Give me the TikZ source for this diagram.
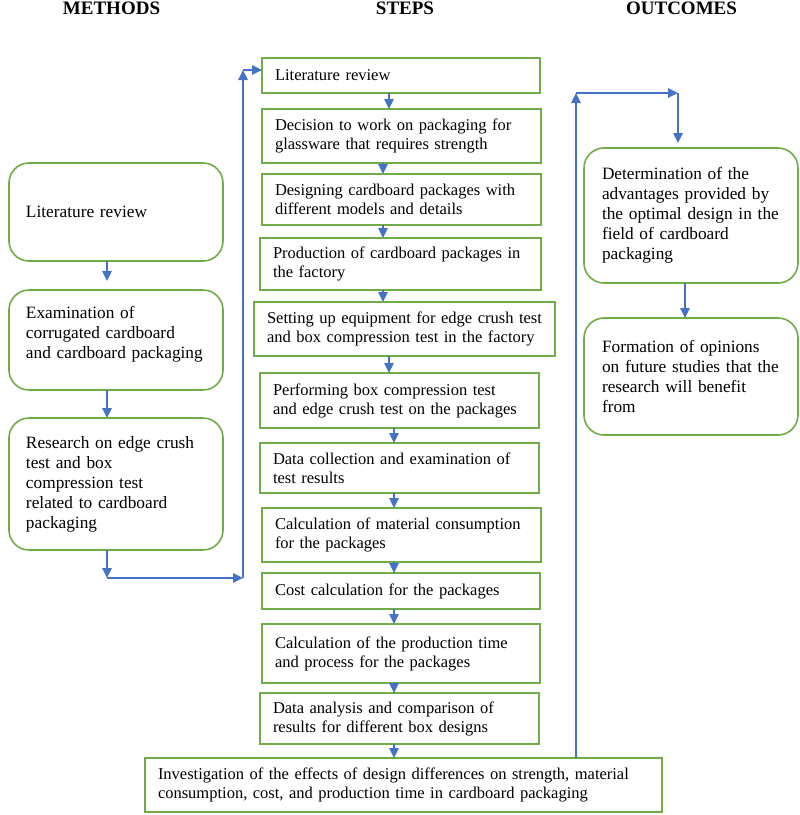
\documentclass[tikz,border=0pt]{standalone}
\usepackage{fontspec}
\setmainfont{Liberation Serif}
\usetikzlibrary{arrows.meta}
\definecolor{gr}{HTML}{70AD47}
\definecolor{bl}{HTML}{4472C4}
\begin{document}
\begin{tikzpicture}[x=1pt,y=-1pt,
  sq/.style={draw=gr,line width=2pt,anchor=north west,align=left,inner xsep=13pt,inner ysep=0pt,outer sep=0pt,font=\fontsize{16.5}{19}\selectfont},
  rnd/.style={draw=gr,line width=1.6pt,rounded corners=20pt,anchor=north west,align=left,inner xsep=17pt,inner ysep=0pt,outer sep=0pt,font=\fontsize{17.3}{20}\selectfont},
  arr/.style={draw=bl,line width=1.6pt,-{Triangle[length=10pt,width=9.5pt]}},
  hd/.style={anchor=base,font=\fontsize{19}{22}\selectfont\bfseries}]
\useasboundingbox (0,0) rectangle (800,815);
% headings
\node[hd] (hm) at (111.5,14) {METHODS};
\node[hd] (hs) at (405,14) {STEPS};
\node[hd] (ho) at (681.5,14) {OUTCOMES};
% middle column
\node[sq,minimum height=35pt,text width=252pt] (b1) at (262,58) {Literature review};
\node[sq,minimum height=54pt,text width=253pt] (b2) at (262,109) {Decision to work on packaging for\\glassware that requires strength};
\node[sq,minimum height=51pt,text width=253pt] (b3) at (262,174) {Designing cardboard packages with\\different models and details};
\node[sq,minimum height=52pt,text width=255pt] (b4) at (260,238) {Production of cardboard packages in\\the factory};
\node[sq,minimum height=54pt,text width=275pt] (b5) at (254,302) {Setting up equipment for edge crush test\\and box compression test in the factory};
\node[sq,minimum height=55pt,text width=253pt] (b6) at (260,373) {Performing box compression test\\and edge crush test on the packages};
\node[sq,minimum height=50pt,text width=253pt] (b7) at (260,443) {Data collection and examination of\\test results};
\node[sq,minimum height=54pt,text width=253pt] (b8) at (262,508) {Calculation of material consumption\\for the packages};
\node[sq,minimum height=36pt,text width=252pt] (b9) at (262,573) {Cost calculation for the packages};
\node[sq,minimum height=59pt,text width=252pt] (b10) at (262,624) {Calculation of the production time\\and process for the packages};
\node[sq,minimum height=51pt,text width=253pt] (b11) at (260,693) {Data analysis and comparison of\\results for different box designs};
\node[sq,minimum height=54pt,text width=491pt] (b12) at (145,758) {Investigation of the effects of design differences on strength, material\\consumption, cost, and production time in cardboard packaging};
% left column
\node[rnd,minimum height=98pt,text width=180pt] (L1) at (9,163) {Literature review};
\node[rnd,minimum height=100pt,text width=180pt] (L2) at (9,290) {Examination of\\corrugated cardboard\\and cardboard packaging\\[-4pt]\mbox{}};
\node[rnd,minimum height=132pt,text width=180pt] (L3) at (9,418) {Research on edge crush\\test and box\\compression test\\related to cardboard\\packaging};
% right column
\node[rnd,minimum height=135pt,text width=178pt,inner xsep=18pt] (R1) at (584,148) {Determination of the\\advantages provided by\\the optimal design in the\\field of cardboard\\packaging};
\node[rnd,minimum height=117pt,text width=178pt,inner xsep=18pt] (R2) at (584,318) {Formation of opinions\\on future studies that the\\research will benefit\\from};
% helper coordinates
\coordinate (xa) at (383,0);
\coordinate (xb) at (389,0);
\coordinate (xc) at (394,0);
\coordinate (xl) at (107,0);
\coordinate (p1) at (107,578);
\coordinate (p2) at (243,578);
\coordinate (p3) at (243,70);
\coordinate (q1) at (576,93);
\coordinate (q2) at (678,93);
\coordinate (xr) at (685,0);
% middle arrows
\draw[arr] (b1.south -| xb) -- (b2.north -| xb);
\draw[arr] (b2.south -| xa) -- (b3.north -| xa);
\draw[arr] (b3.south -| xa) -- (b4.north -| xa);
\draw[arr] (b4.south -| xa) -- (b5.north -| xa);
\draw[arr] (b5.south -| xb) -- (b6.north -| xb);
\draw[arr] (b6.south -| xc) -- (b7.north -| xc);
\draw[arr] (b7.south -| xc) -- (b8.north -| xc);
\draw[arr] (b8.south -| xc) -- (b9.north -| xc);
\draw[arr] (b9.south -| xc) -- (b10.north -| xc);
\draw[arr] (b10.south -| xc) -- (b11.north -| xc);
\draw[arr] (b11.south -| xc) -- (b12.north -| xc);
% left arrows
\draw[arr,shorten >=9pt] (L1.south -| xl) -- (L2.north -| xl);
\draw[arr] (L2.south -| xl) -- (L3.north -| xl);
\draw[arr] (L3.south -| xl) -- (p1);
\draw[arr] (p1) -- (p2);
\draw[arr] (p2) -- (p3);
\draw[arr] (p3) -- (b1.west |- p3);
% right arrows
\draw[arr] (b12.north -| q1) -- (q1);
\draw[arr] (q1) -- (q2);
\draw[arr,shorten >=5pt] (q2) -- (R1.north -| q2);
\draw[arr] (R1.south -| xr) -- (R2.north -| xr);
\end{tikzpicture}
\end{document}
